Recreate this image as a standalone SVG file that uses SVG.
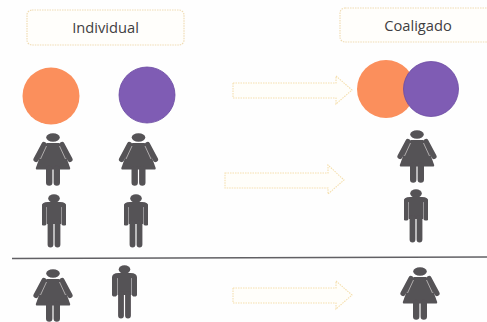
<svg xmlns="http://www.w3.org/2000/svg" xmlns:xlink="http://www.w3.org/1999/xlink" width="487" height="322" viewBox="0 0 487 322">
<style>
.box{fill:#fffefb;stroke:#f0dcb4;stroke-width:1.2;stroke-dasharray:1.5 1}
.arrow{fill:#fffefa;stroke:#f5dfae;stroke-width:1.1;stroke-dasharray:1.5 1}
.label{font-family:"Open Sans","Liberation Sans",sans-serif;font-size:14.700px;fill:#3f3f42;text-anchor:middle}
.orange{fill:#fb8f5c}
.purple{fill:#7f5cb4;stroke:#6b4aa2;stroke-width:.8}
</style>
<defs>
<filter id="soft" x="-10%" y="-10%" width="120%" height="120%"><feGaussianBlur stdDeviation="0.5"/></filter>
<g id="woman" filter="url(#soft)">
<ellipse cx="0" cy="4.5" rx="6.800" ry="4.200" fill="#555256"/>
<path d="M-6 10H6L9 12.500 17 34.500C17.500 36 17 36.500 16 36.500H-16C-17 36.500-17.500 36-17 34.500L-9 12.500Z" fill="#555256"/>
<path d="M-9 11.500-17 26.500M9 11.500 17 26.500" stroke="#555256" stroke-width="5.200" stroke-linecap="round" fill="none"/>
<path d="M-6.500 13-12.500 26M6.500 13 12.500 26" stroke="#b9b7b6" stroke-width=".9" fill="none"/>
<path d="M-3.800 36V49.500M3.800 36V49.500" stroke="#555256" stroke-width="6.400" stroke-linecap="round" fill="none"/>
</g>
<g id="man" filter="url(#soft)">
<ellipse cx="0" cy="4.500" rx="5.800" ry="4.200" fill="#555256"/>
<path d="M-7 10.500H7V30H-7Z" fill="#555256"/>
<path d="M-10 14.500V29M10 14.500V29M-10 13C-10 11-8 10.500-6 10.500H6C8 10.500 10 11 10 13" stroke="#555256" stroke-width="5.200" stroke-linecap="round" fill="none"/>
<path d="M-3.500 29V50.500M3.500 29V50.500" stroke="#555256" stroke-width="5.800" stroke-linecap="round" fill="none"/>
</g>
</defs>
<rect width="487" height="322" fill="#fefefe"/>
<g id="connectors">
<path class="arrow" d="M233 83H336V76L352 90 336 104V98H233Z"/>
<path class="arrow" d="M225 173H328V165L344 180 328 194V188H225Z"/>
<path class="arrow" d="M233 288H336V281L352 295 336 309V303H233Z"/>
<path d="M12 258.500L487 257" stroke="#616064" stroke-width="1.400" fill="none"/>
</g>
<g id="box-individual"><rect class="box" x="27" y="10" width="157" height="35" rx="5"/><text class="label" x="105.500" y="33">Individual</text></g>
<g id="box-coaligado"><rect class="box" x="340" y="8" width="160" height="34" rx="5"/><text class="label" x="418" y="31">Coaligado</text></g>
<g id="circle-orange-1"><circle class="orange" cx="51" cy="96" r="28.500"/></g>
<g id="circle-purple-1"><circle class="purple" cx="147" cy="95" r="28"/></g>
<g id="circle-orange-2"><circle class="orange" cx="386" cy="89" r="29"/></g>
<g id="circle-purple-2"><circle class="purple" cx="431" cy="89" r="27.500"/></g>
<g id="woman-1"><use xlink:href="#woman" href="#woman" x="53" y="133"/></g>
<g id="woman-2"><use xlink:href="#woman" href="#woman" x="138.500" y="133"/></g>
<g id="woman-3"><use xlink:href="#woman" href="#woman" x="417" y="130"/></g>
<g id="man-1"><use xlink:href="#man" href="#man" x="54" y="194"/></g>
<g id="man-2"><use xlink:href="#man" href="#man" x="136" y="194"/></g>
<g id="man-3"><use xlink:href="#man" href="#man" x="416" y="189"/></g>
<g id="woman-4"><use xlink:href="#woman" href="#woman" x="53" y="269"/></g>
<g id="man-4"><use xlink:href="#man" href="#man" x="124.500" y="265"/></g>
<g id="woman-5"><use xlink:href="#woman" href="#woman" x="420" y="267"/></g>
</svg>
